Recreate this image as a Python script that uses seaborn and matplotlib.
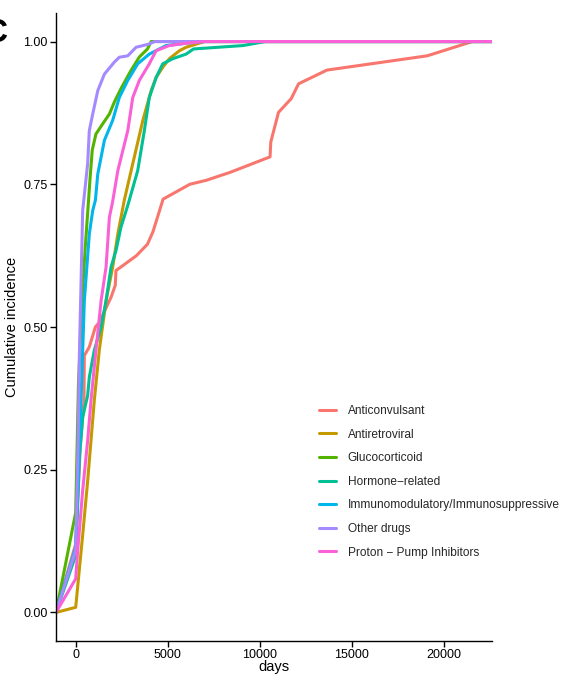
import matplotlib
matplotlib.use("Agg")
import matplotlib.pyplot as plt
import numpy as np
import pandas as pd
import seaborn as sns

# ---- data ----
categories = ["Anticonvulsant", "Antiretroviral", "Glucocorticoid", "Hormone\u2212related",
              "Immunomodulatory/Immunosuppressive", "Other drugs", "Proton \u2212 Pump Inhibitors"]
colors = ["#F8766D", "#C49A00", "#53B400", "#00C094", "#00B6EB", "#A58AFF", "#FB61D7"]

anticonvulsant_days = [-1070, 0, 250, 450, 470, 740, 1070, 1280, 1920, 2150, 2190, 2410, 3300, 3900, 4200,
                       4750, 6200, 7100, 8400, 10560, 10600, 11020, 11710, 12110, 13650, 19100, 21550, 22620]
anticonvulsant_ci = [0, 0.12, 0.29, 0.37, 0.45, 0.465, 0.50, 0.508, 0.552, 0.573, 0.599, 0.604, 0.625, 0.645, 0.667,
                     0.724, 0.75, 0.757, 0.771, 0.798, 0.824, 0.876, 0.90, 0.926, 0.95, 0.975, 1.0, 1.0]

antiretroviral_days = [-1070, 0, 380, 650, 1010, 1280, 1650, 2010, 2290, 2640, 3100, 3650, 4100, 4370, 4730,
                       5090, 5640, 6000, 7000, 22620]
antiretroviral_ci = [0, 0.009, 0.136, 0.23, 0.371, 0.459, 0.546, 0.605, 0.663, 0.722, 0.786, 0.862, 0.914, 0.937,
                     0.955, 0.970, 0.984, 0.99, 1.0, 1.0]

glucocorticoid_days = [-1070, 0, 150, 350, 520, 620, 780, 900, 1100, 1470, 1830, 2100, 2500, 3000, 3460, 3900,
                       4100, 22620]
glucocorticoid_ci = [0, 0.175, 0.40, 0.55, 0.64, 0.686, 0.76, 0.81, 0.838, 0.856, 0.873, 0.894, 0.92, 0.949, 0.973,
                     0.987, 1.0, 1.0]

hormone_days = [-1070, 0, 200, 380, 650, 740, 1010, 1380, 1650, 1920, 2190, 2460, 2830, 3370, 3730, 4000, 4370,
                4730, 5280, 6000, 6400, 9100, 10300, 22620]
hormone_ci = [0, 0.10, 0.272, 0.342, 0.38, 0.412, 0.459, 0.50, 0.546, 0.605, 0.634, 0.675, 0.713, 0.774, 0.844,
              0.902, 0.937, 0.961, 0.970, 0.978, 0.987, 0.993, 1.0, 1.0]

immuno_days = [-1070, 0, 290, 470, 740, 925, 1070, 1200, 1560, 2010, 2370, 2830, 3370, 4000, 4910, 6000, 7000, 22620]
immuno_ci = [0, 0.114, 0.371, 0.546, 0.663, 0.704, 0.722, 0.768, 0.827, 0.862, 0.902, 0.932, 0.961, 0.978, 0.993,
             0.997, 1.0, 1.0]

other_days = [-1070, 0, 130, 200, 380, 650, 740, 925, 1200, 1560, 2100, 2370, 2830, 3280, 3920, 4300, 22620]
other_ci = [0, 0.109, 0.30, 0.45, 0.704, 0.786, 0.844, 0.873, 0.914, 0.943, 0.964, 0.9725, 0.975, 0.99, 0.995,
            1.0, 1.0]

ppi_days = [-1070, 0, 110, 380, 650, 830, 1100, 1380, 1650, 1830, 2010, 2290, 2560, 2830, 3100, 3460, 4000, 4370,
            5090, 6000, 7000, 22620]
ppi_ci = [0, 0.059, 0.109, 0.214, 0.301, 0.371, 0.459, 0.546, 0.605, 0.692, 0.72, 0.774, 0.809, 0.844, 0.902,
          0.932, 0.961, 0.984, 0.993, 0.997, 1.0, 1.0]

x_ticks = [0, 5000, 10000, 15000, 20000]
y_ticks = [0.00, 0.25, 0.50, 0.75, 1.00]
y_tick_labels = ["0.00", "0.25", "0.50", "0.75", "1.00"]

series = [(anticonvulsant_days, anticonvulsant_ci), (antiretroviral_days, antiretroviral_ci),
          (glucocorticoid_days, glucocorticoid_ci), (hormone_days, hormone_ci),
          (immuno_days, immuno_ci), (other_days, other_ci), (ppi_days, ppi_ci)]

frames = []
for cat, (d, c) in zip(categories, series):
    frames.append(pd.DataFrame({"days": d, "ci": c, "group": cat}))
df = pd.concat(frames, ignore_index=True)

# ---- plot ----
sns.set_theme(style="ticks")
plt.rcParams["font.family"] = ["Liberation Sans", "DejaVu Sans"]

W, H = 564, 675
fig = plt.figure(figsize=(W / 100, H / 100), dpi=100)
ax = fig.add_axes([56 / W, 1 - 641 / H, (492 - 56) / W, (641 - 13) / H])

sns.lineplot(data=df, x="days", y="ci", hue="group", hue_order=categories,
             palette=dict(zip(categories, colors)), estimator=None, sort=False,
             linewidth=2.2, ax=ax)

ax.set_xlim(-1070, 22620)
ax.set_ylim(-0.05, 1.05)
ax.set_xticks(x_ticks)
ax.set_xticklabels([str(t) for t in x_ticks])
ax.set_yticks(y_ticks)
ax.set_yticklabels(y_tick_labels)
ax.tick_params(axis="both", labelsize=9, length=4, width=1.0, color="black",
               labelcolor="black", pad=2)
sns.despine(ax=ax)
for s in ["left", "bottom"]:
    ax.spines[s].set_color("black")
    ax.spines[s].set_linewidth(1.0)

ax.set_xlabel("days", fontsize=10.5, color="black", labelpad=-1)
ax.set_ylabel("Cumulative incidence", fontsize=10.5, color="black", labelpad=3)

leg = ax.legend(loc="upper left", bbox_to_anchor=(319 / W, 1 - 405 / H),
                bbox_transform=fig.transFigure, frameon=False, fontsize=8.6,
                handlelength=1.45, handletextpad=0.95, labelspacing=0.97,
                borderpad=0, borderaxespad=0, title=None)
for line in leg.get_lines():
    line.set_linewidth(2.2)

fig.text(8 / W, 1 - 42 / H, "C", fontsize=24, fontweight="bold", ha="right",
         va="baseline", color="black")

fig.savefig("out.png", dpi=100)
